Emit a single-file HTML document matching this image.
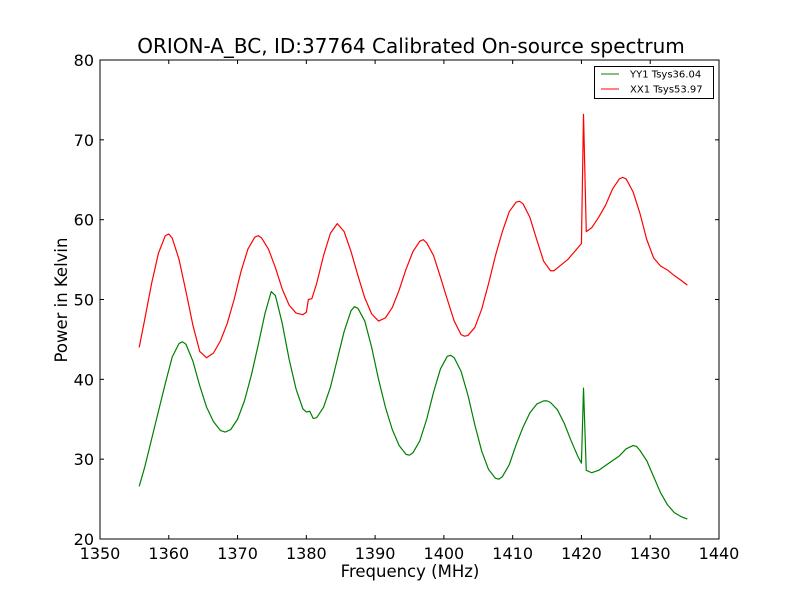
<!DOCTYPE html>
<html><head><meta charset="utf-8"><style>
body{margin:0;background:#fff}
svg{display:block;font-family:"DejaVu Sans","Liberation Sans",sans-serif}
</style></head><body>
<svg id="chart" width="800" height="600">
<rect width="800" height="600" fill="#fff"/>
<text x="411" y="53" font-size="20" text-anchor="middle">ORION-A_BC, ID:37764 Calibrated On-source spectrum</text>
<g id="axes"></g>
<g id="series"></g>
<rect x="100" y="60" width="619" height="479" fill="none" stroke="#000" stroke-width="1"/>
<text x="410" y="577" font-size="16.5" text-anchor="middle">Frequency (MHz)</text>
<text x="67" y="300" font-size="16.5" text-anchor="middle" transform="rotate(-90 67 300)">Power in Kelvin</text>
<g>
<rect x="594.5" y="66.5" width="119" height="32" fill="#fff" stroke="#000"/>
<line x1="601" y1="74" x2="619" y2="74" stroke="green"/>
<text x="630" y="77.5" font-size="10">YY1 Tsys36.04</text>
<line x1="601" y1="89" x2="619" y2="89" stroke="red"/>
<text x="630" y="92.5" font-size="10">XX1 Tsys53.97</text>
</g>
</svg>
<script>
const xTicks=[1350,1360,1370,1380,1390,1400,1410,1420,1430,1440];
const yTicks=[20,30,40,50,60,70,80];
const redFreq=[1355.7,1356.5,1357.5,1358.5,1359.5,1360.0,1360.5,1361.5,1362.5,1363.5,1364.5,1365.5,1366.5,1367.5,1368.5,1369.5,1370.5,1371.5,1372.5,1373.0,1373.5,1374.5,1375.5,1376.5,1377.5,1378.5,1379.5,1380.0,1380.3,1380.8,1381.5,1382.5,1383.5,1384.5,1385.5,1386.5,1387.5,1388.5,1389.5,1390.5,1391.5,1392.5,1393.5,1394.5,1395.5,1396.5,1397.0,1397.5,1398.5,1399.5,1400.5,1401.5,1402.5,1403.0,1403.5,1404.5,1405.5,1406.5,1407.5,1408.5,1409.5,1410.5,1411.0,1411.5,1412.5,1413.5,1414.5,1415.5,1416.0,1417.0,1418.0,1419.0,1420.0,1420.3,1420.7,1421.5,1422.5,1423.5,1424.5,1425.5,1426.0,1426.5,1427.5,1428.5,1429.5,1430.5,1431.5,1432.5,1433.5,1434.5,1435.4];
const redVals=[44.0,47.5,52,55.8,58.0,58.2,57.7,55,51,46.8,43.5,42.7,43.3,44.8,47,50,53.5,56.3,57.8,58.0,57.7,56.3,54,51.3,49.3,48.3,48.1,48.4,50,50.1,52,55.5,58.3,59.5,58.5,56,53,50.2,48.2,47.3,47.7,49,51.2,53.8,56,57.3,57.5,57.1,55.5,52.8,50,47.3,45.6,45.4,45.5,46.5,48.8,52,55.5,58.5,61,62.2,62.3,62,60.3,57.5,54.8,53.6,53.6,54.3,55,56,57,73.2,58.5,59,60.3,61.8,63.8,65.1,65.3,65.1,63.5,60.8,57.5,55.2,54.2,53.7,53,52.4,51.8];
const greenFreq=[1355.7,1356.5,1357.5,1358.5,1359.5,1360.5,1361.5,1362,1362.5,1363.5,1364.5,1365.5,1366.5,1367.5,1368.2,1369,1370,1371,1372,1373,1374,1374.9,1375.5,1376.5,1377.5,1378.5,1379.5,1380.0,1380.5,1381,1381.5,1382.5,1383.5,1384.5,1385.5,1386.5,1387.0,1387.5,1388.5,1389.5,1390.5,1391.5,1392.5,1393.5,1394.5,1395.0,1395.5,1396.5,1397.5,1398.5,1399.5,1400.5,1401,1401.5,1402.5,1403.5,1404.5,1405.5,1406.5,1407.5,1408.0,1408.5,1409.5,1410.5,1411.5,1412.5,1413.5,1414.5,1415.0,1415.5,1416.5,1417.5,1418.5,1419.5,1420.0,1420.3,1420.7,1421.5,1422.5,1423.5,1424.5,1425.5,1426.5,1427.5,1428.0,1428.5,1429.5,1430.5,1431.5,1432.5,1433.5,1434.5,1435.4];
const greenVals=[26.6,29,32.5,36,39.5,42.8,44.5,44.7,44.4,42.3,39.2,36.5,34.7,33.6,33.4,33.7,35,37.3,40.5,44.3,48.3,51.0,50.5,47,42.5,38.8,36.3,35.9,36,35.1,35.2,36.5,39,42.5,46,48.6,49.1,48.9,47.3,44,40,36.5,33.7,31.7,30.6,30.5,30.8,32.3,35,38.4,41.3,42.9,43,42.7,41,38,34.3,31,28.7,27.6,27.5,27.8,29.3,31.8,34,35.8,36.9,37.3,37.3,37.1,36.2,34.5,32.3,30.3,29.5,38.9,28.6,28.3,28.6,29.2,29.8,30.4,31.3,31.7,31.6,31.1,29.8,27.8,25.8,24.3,23.3,22.8,22.5];

const X0=100,X1=719,Y0=539,Y1=60;
function xs(v){return X0+(v-1350)/(1440-1350)*(X1-X0);}
function ys(v){return Y0-(v-20)/(80-20)*(Y0-Y1);}
const NS="http://www.w3.org/2000/svg";
const axes=document.getElementById('axes');
function mk(tag,attrs,parent){const e=document.createElementNS(NS,tag);for(const k in attrs)e.setAttribute(k,attrs[k]);parent.appendChild(e);return e;}
xTicks.forEach(t=>{
  const x=xs(t);
  const l1=mk('line',{x1:x,y1:Y0,x2:x,y2:Y0-4,stroke:'#000'},axes);
  
  
  const l2=mk('line',{x1:x,y1:Y1,x2:x,y2:Y1+4,stroke:'#000'},axes);
  
  
  const tx=mk('text',{x:x,y:Y0+20,'font-size':16,'text-anchor':'middle'},axes);
  tx.textContent=t;
  
  
});
yTicks.forEach(t=>{
  const y=ys(t);
  const l1=mk('line',{x1:X0,y1:y,x2:X0+4,y2:y,stroke:'#000'},axes);
  
  
  const l2=mk('line',{x1:X1,y1:y,x2:X1-4,y2:y,stroke:'#000'},axes);
  
  
  const tx=mk('text',{x:X0-6,y:y+6,'font-size':16,'text-anchor':'end'},axes);
  tx.textContent=t;
  
  
});
const series=document.getElementById('series');
function draw(fr,vals,color,name){
  const pts=fr.map((f,i)=>xs(f).toFixed(2)+','+ys(vals[i]).toFixed(2)).join(' ');
  const p=mk('polyline',{points:pts,fill:'none',stroke:color,'stroke-width':1.2,'stroke-linejoin':'round'},series);
  
  
}
draw(greenFreq,greenVals,'green','yy1-line');
draw(redFreq,redVals,'red','xx1-line');
</script>
</body></html>
